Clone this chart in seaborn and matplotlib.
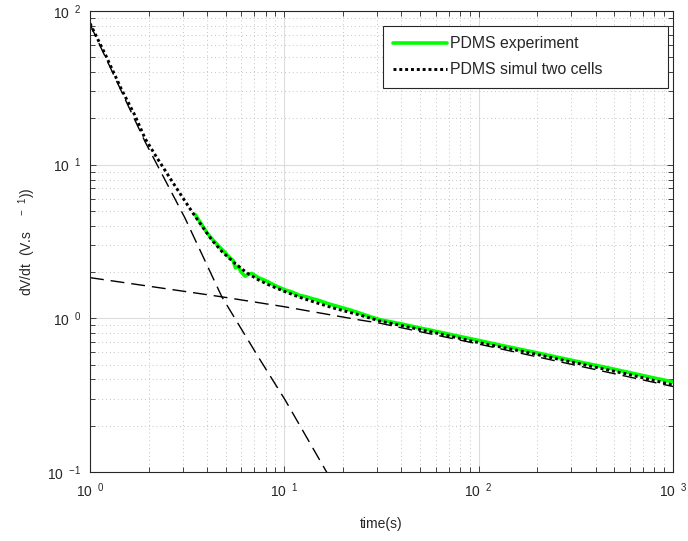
import matplotlib
matplotlib.use("Agg")
import matplotlib.pyplot as plt
import seaborn as sns
import pandas as pd

# PDMS experiment (green)
exp_t = [3.47, 3.7, 4.0, 4.23, 4.6, 5.0, 5.25, 5.45, 5.6, 5.8, 6.0, 6.28, 6.5, 6.8,
         7.35, 8.0, 9.0, 10.1, 11, 12, 13, 14, 15, 17, 18.2, 20, 22, 24.5, 28, 31,
         40, 50, 56, 70, 85, 100, 130, 184, 250, 333, 450, 600, 800, 1000]
exp_v = [4.75, 4.2, 3.6, 3.3, 2.95, 2.65, 2.47, 2.38, 2.13, 2.18, 2.0, 1.88, 1.93, 1.96,
         1.84, 1.76, 1.63, 1.53, 1.48, 1.41, 1.38, 1.34, 1.31, 1.24, 1.21, 1.17, 1.13, 1.08, 1.02, 0.98,
         0.92, 0.865, 0.84, 0.79, 0.75, 0.718, 0.668, 0.61, 0.561, 0.519, 0.48, 0.443, 0.409, 0.386]

# PDMS simulation, two cells (dotted)
sim_t = [1.0, 1.2, 1.45, 1.7, 1.92, 2.2, 2.6, 3.0, 3.47, 3.9, 4.23, 4.8, 5.57, 6.4, 7.35,
         8.5, 10.1, 12, 15, 18.2, 24.5, 31, 56, 100, 184, 333, 600, 1000]
sim_v = [83, 52, 31, 21, 14.8, 11.2, 8.05, 6.1, 4.62, 3.75, 3.24, 2.7, 2.28, 1.98, 1.78,
         1.63, 1.49, 1.37, 1.25, 1.16, 1.05, 0.96, 0.82, 0.695, 0.595, 0.505, 0.43, 0.368]

# fast component (steep dashed)
fast_t = [1.0, 1.92, 3.08, 4.77, 7.35, 10.1, 16.5, 18.0]
fast_v = [82, 14.1, 4.5, 1.38, 0.56, 0.294, 0.1, 0.083]

# slow component (shallow dashed)
slow_t = [1.0, 4.77, 10.0, 24.5, 31, 100, 1000]
slow_v = [1.84, 1.38, 1.19, 0.975, 0.93, 0.68, 0.36]

x_exp = [0, 1, 2, 3]
y_exp = [-1, 0, 1, 2]

sns.set_style("whitegrid")
plt.rcParams["font.family"] = ["Liberation Sans", "DejaVu Sans"]
plt.rcParams["mathtext.fontset"] = "custom"
plt.rcParams["mathtext.rm"] = "Liberation Sans"

fig = plt.figure(figsize=(6.88, 5.41), dpi=100)
ax = fig.add_axes([90 / 688, 1 - 472 / 541, 583 / 688, 461 / 541])
ax.set_xscale("log")
ax.set_yscale("log")

sns.lineplot(x=exp_t, y=exp_v, ax=ax, color="#00ff00", linewidth=2.6,
             label="PDMS experiment", sort=False, estimator=None)
sns.lineplot(x=sim_t, y=sim_v, ax=ax, color="black", linewidth=2.1,
             linestyle=(0, (1, 1)), dash_capstyle="butt",
             label="PDMS simul two cells", sort=False, estimator=None)
sns.lineplot(x=fast_t, y=fast_v, ax=ax, color="black", linewidth=1.0,
             linestyle=(0, (10, 5)), sort=False, estimator=None)
sns.lineplot(x=slow_t, y=slow_v, ax=ax, color="black", linewidth=1.0,
             linestyle=(0, (10, 5)), sort=False, estimator=None)

ax.set_xlim(1, 1000)
ax.set_ylim(0.1, 100)

ax.set_xticks([10.0 ** e for e in x_exp])
ax.set_xticklabels([r"$\mathregular{10^{\ \ {%d}}}$" % e for e in x_exp])
ax.set_yticks([10.0 ** e for e in y_exp])
ax.set_yticklabels([r"$\mathregular{10^{\ \ {%s}}}$" % ("{-}1" if e < 0 else str(e)) for e in y_exp])

ax.grid(True, which="major", color="#dcdcdc", linestyle="-", linewidth=0.8)
ax.grid(True, which="minor", color="#c4c4c4", linestyle=(0, (1, 3)), linewidth=0.7)
ax.set_axisbelow(True)

ax.tick_params(which="both", direction="in", top=True, right=True,
               bottom=True, left=True, color="#262626", width=0.6,
               labelsize=10, labelcolor="#262626")
ax.tick_params(which="major", length=4.5)
ax.tick_params(which="minor", length=3.5)
ax.tick_params(axis="x", which="major", pad=7)
ax.tick_params(axis="y", which="major", pad=6)
for s in ax.spines.values():
    s.set_color("#262626")
    s.set_linewidth(0.8)
    s.set_visible(True)

ax.set_xlabel("time(s)", fontsize=10, color="#262626", labelpad=12)
ax.set_ylabel(r"dV/dt  (V.s    $^{{-}\ \ 1}$))", fontsize=10, color="#262626")
ax.yaxis.set_label_coords(-0.089, 0.5)

leg = ax.legend(loc="upper left", bbox_to_anchor=(0.502, 0.868, 0.489, 0.1),
                mode="expand", borderaxespad=0,
                fontsize=11.4, frameon=True, fancybox=False, framealpha=1,
                edgecolor="#262626", handlelength=3.4, handletextpad=0.2,
                labelspacing=0.72, borderpad=0.65)
leg.get_frame().set_linewidth(0.8)

fig.savefig("out.png", dpi=100)
